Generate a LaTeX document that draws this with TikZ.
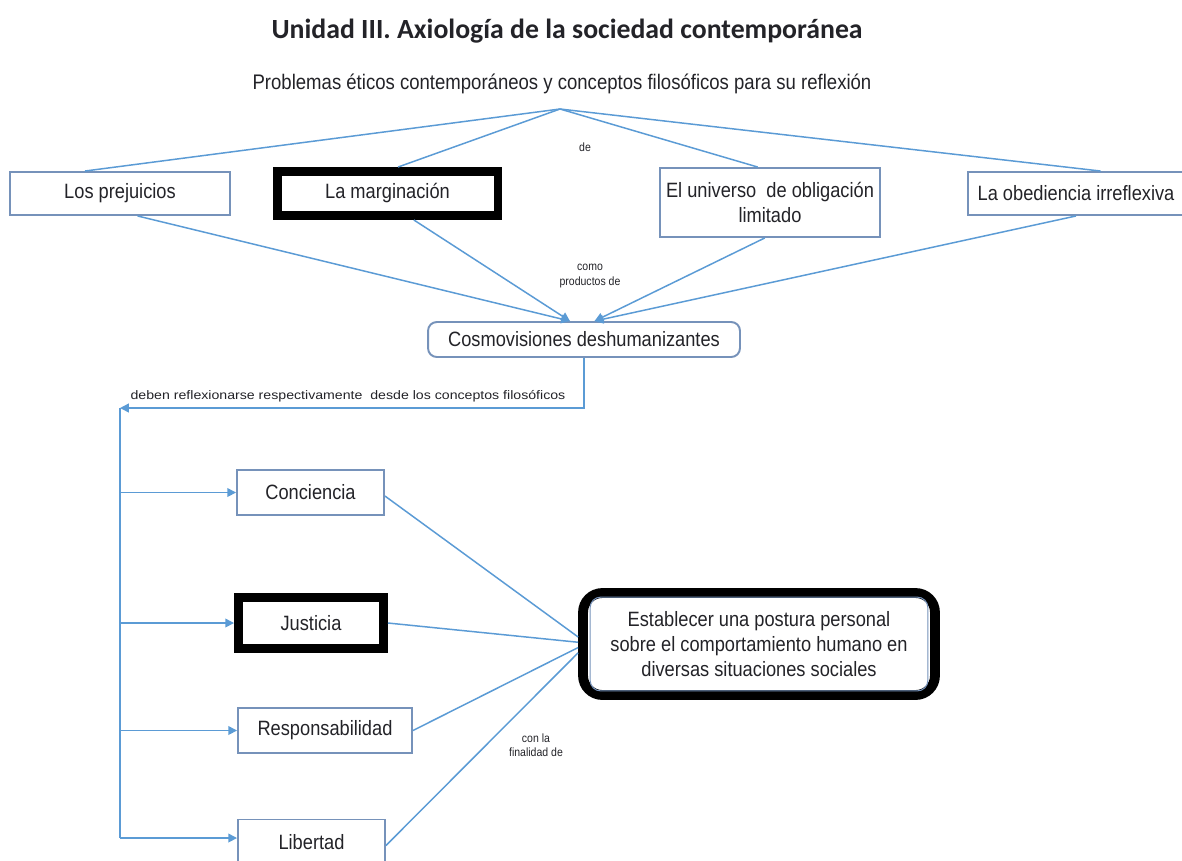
\documentclass[tikz,border=0pt]{standalone}
\usepackage{fontspec}
\setmainfont{Liberation Sans}[FakeStretch=0.88]
\newfontfamily\titlefont{Carlito}
\newfontfamily\notefont{Liberation Sans}[FakeStretch=1.15]
\usetikzlibrary{arrows.meta,calc}

\definecolor{linkblue}{RGB}{91,155,213}
\definecolor{boxblue}{RGB}{118,146,186}
\definecolor{ink}{RGB}{35,35,40}

\tikzset{
  box/.style={draw=boxblue, line width=1.1pt, fill=white, align=center,
    inner sep=0pt, text=ink, font=\fontsize{11.8}{14}\selectfont},
  heavybox/.style={box, draw=black, line width=5.1pt},
  link/.style={draw=linkblue, line width=0.85pt},
  tip/.style={-{Triangle[length=5pt,width=5pt]}},
  note/.style={text=ink, align=center, inner sep=0pt,
    font=\fontsize{6.8}{8.2}\selectfont},
}

\begin{document}
\begin{tikzpicture}[x=0.02cm, y=-0.02cm]
\useasboundingbox (0,0) rectangle (1182,860);

% headings
\node[inner sep=0, text=ink, font=\titlefont\bfseries\fontsize{15.8}{18}\selectfont]
  (title) at (567,31) {Unidad III. Axiología de la sociedad contemporánea};
\node[inner sep=0, text=ink, font=\fontsize{12}{14}\selectfont]
  (sub) at (562,84) {Problemas éticos contemporáneos y conceptos filosóficos para su reflexión};
\coordinate (apex) at (560,109);

% upper row of problems
\node[box, minimum width=4.4cm, minimum height=0.86cm] (prej) at (120,193.5) {Los prejuicios};
\node[heavybox, minimum width=4.42cm, minimum height=0.88cm] (marg) at (387.5,193.5) {La marginación};
\node[box, minimum width=4.4cm, minimum height=1.38cm] (univ) at (770,202.5)
  {El universo \ de obligación\\limitado};
\node[box, minimum width=4.34cm, minimum height=0.86cm] (obed) at (1076,193.5) {La obediencia irreflexiva};

\node[box, rounded corners=5pt, minimum width=6.24cm, minimum height=0.70cm] (cosmo) at (584,339.5)
  {Cosmovisiones deshumanizantes};

% philosophical concepts
\node[box, minimum width=2.94cm, minimum height=0.9cm] (conc) at (310.5,492.5) {Conciencia};
\node[heavybox, minimum width=2.9cm, minimum height=1.02cm] (just) at (311,623) {Justicia};
\node[box, minimum width=3.48cm, minimum height=0.9cm] (resp) at (325,730.5) {Responsabilidad};
\node[box, minimum width=2.94cm, minimum height=0.9cm] (lib) at (311.5,842) {Libertad};

% purpose
\node[box, draw=black, line width=5.6pt, rounded corners=11pt,
  minimum width=7.04cm, minimum height=2.04cm] (estab) at (759,644)
  {Establecer una postura personal\\sobre el comportamiento humano en\\diversas situaciones sociales};
\draw[boxblue, line width=0.6pt, rounded corners=6pt]
  ($(estab.south west)+(12,-9)$) rectangle ($(estab.north east)+(-12,9)$);

% connector labels
\node[note] (lde) at (585,147) {de};
\node[note] (lcomo) at (590,276) {como\\productos de};
\node[note, font=\notefont\fontsize{7}{8.4}\selectfont] (ldeben) at (348,396)
  {deben reflexionarse respectivamente \ desde los conceptos filosóficos};
\node[note] (lcon) at (536,745) {con la\\finalidad de};

% from the heading to the four problems
\draw[link] (apex) -- ([xshift=-20]prej.north);
\draw[link] (apex) -- ([xshift=6]marg.north);
\draw[link] (apex) -- ([xshift=-7]univ.north);
\draw[link] (apex) -- ([xshift=14]obed.north);

% problems as products of dehumanising world views
\coordinate (tipL) at ([xshift=-8]cosmo.north);
\coordinate (tipR) at ([xshift=6]cosmo.north);
\draw[link, tip] ([xshift=10]prej.south) -- (tipL);
\draw[link, tip] ([xshift=15]marg.south) -- (tipL);
\draw[link, tip] ([xshift=-3]univ.south) -- (tipR);
\draw[link, tip] (obed.south) -- (tipR);

% trunk towards the concepts
\coordinate (trunk) at (120,408);
\coordinate (trunkEnd) at (120,838);
\draw[link, tip] (cosmo.south) |- (trunk);
\draw[link] (trunk) -- (trunkEnd);
\draw[link, tip] (trunk |- conc.west) -- (conc.west);
\draw[link, tip] (trunk |- just.west) -- (just.west);
\draw[link, tip] (trunk |- resp.west) -- (resp.west);
\draw[link, tip] (trunkEnd) -- (lib.west |- trunkEnd);

% concepts towards the purpose
\draw[link] ([yshift=-2]conc.east) -- ([yshift=4]estab.west);
\draw[link] (just.east) -- ([yshift=1]estab.west);
\draw[link] (resp.east) -- ([yshift=-2]estab.west);
\draw[link] ([yshift=-2]lib.east) -- ([yshift=-5]estab.west);
\end{tikzpicture}
\end{document}
